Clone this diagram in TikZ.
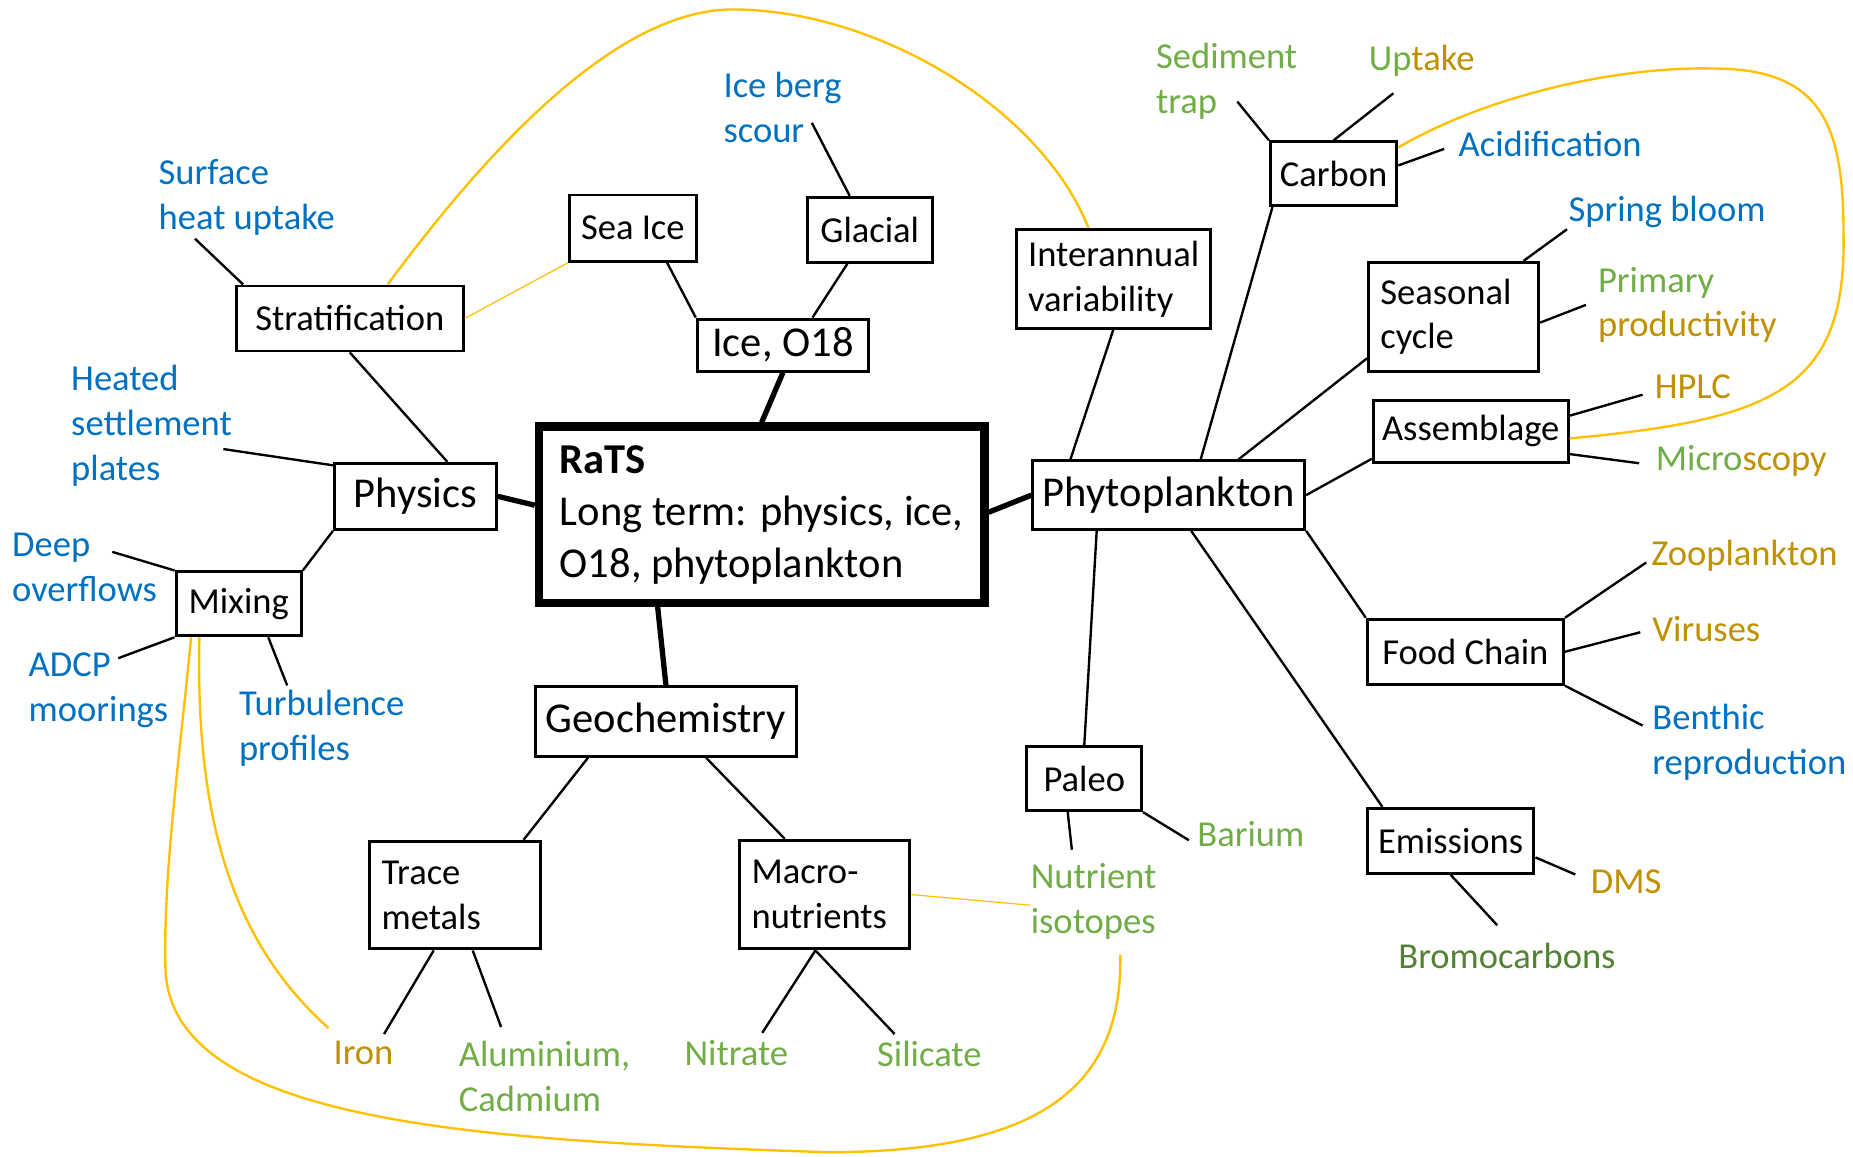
\documentclass[tikz,border=0pt]{standalone}
\usepackage{fontspec}
\setmainfont{Carlito}

\definecolor{rblue}{HTML}{0070C0}
\definecolor{rgreen}{HTML}{70AD47}
\definecolor{rgold}{HTML}{BF9000}
\definecolor{rdkgreen}{HTML}{548235}
\definecolor{ryellow}{HTML}{FFC000}

\newcommand\PX{0.25mm}
\newcommand\txtsize{\fontsize{22}{27}\selectfont}
\newcommand\bigtxtsize{\fontsize{25.6}{31.3}\selectfont}

\tikzset{
  box/.style={draw, line width=2.5*\PX, inner sep=0pt, font=\txtsize},
  bigbox/.style={box, font=\bigtxtsize},
  twobox/.style={box, align=left, inner xsep=10*\PX},
  lbl/.style={anchor=west, inner sep=0pt, align=left, font=\txtsize},
  link/.style={line width=2*\PX},
  mainlink/.style={line width=4.5*\PX},
  cross/.style={draw=ryellow, line width=2*\PX},
  crossthin/.style={draw=ryellow, line width=1*\PX},
}

\begin{document}
\begin{tikzpicture}[x=\PX, y=-\PX]

\useasboundingbox (0,0) rectangle (1568,979); %% page size

%% centre
\node[box, line width=7*\PX, align=left, font=\bigtxtsize,
  minimum width=377*\PX, minimum height=149*\PX] (rats) at (644.5,435.5)
  {\textbf{RaTS}\\Long term: physics, ice,\\O18, phytoplankton};

%% physics side
\node[bigbox, minimum width=137*\PX, minimum height=56*\PX] (phys) at (351.5,420) {Physics};
\node[box, minimum width=192*\PX, minimum height=55*\PX] (strat) at (296,269.5) {Stratification};
\node[box, minimum width=106*\PX, minimum height=54*\PX] (mix) at (202,511) {Mixing};

%% ice
\node[box, minimum width=107*\PX, minimum height=56*\PX] (seaice) at (535.5,193) {Sea Ice};
\node[box, minimum width=106*\PX, minimum height=55*\PX] (glacial) at (736,194.5) {Glacial};
\node[bigbox, minimum width=145*\PX, minimum height=44*\PX] (iceo) at (662.5,292) {Ice, O18};

%% phytoplankton
\node[bigbox, minimum width=230*\PX, minimum height=58*\PX] (phyto) at (989,419) {Phytoplankton};
\node[twobox, text width=36mm, minimum height=84*\PX] (inter) at (942,236) {Interannual\\variability};
\node[box, minimum width=107*\PX, minimum height=54*\PX] (carbon) at (1128.5,147) {Carbon};
\node[twobox, text width=31mm, minimum height=92*\PX] (seas) at (1230,268) {Seasonal\\cycle};
\node[box, minimum width=165*\PX, minimum height=52*\PX] (assem) at (1244.5,365) {Assemblage};
\node[box, minimum width=166*\PX, minimum height=55*\PX] (food) at (1240,551.5) {Food Chain};
\node[box, minimum width=97*\PX, minimum height=54*\PX] (paleo) at (917.5,659) {Paleo};
\node[box, minimum width=141*\PX, minimum height=55*\PX] (emis) at (1227.5,711.5) {Emissions};

%% geochemistry
\node[bigbox, minimum width=221*\PX, minimum height=59*\PX] (geo) at (563.5,610.5) {Geochemistry};
\node[twobox, text width=31mm, minimum height=91*\PX] (trace) at (385,757.5) {Trace\\metals};
\node[twobox, text width=31mm, minimum height=92*\PX] (macro) at (698,757) {Macro-\\nutrients};

%% labels
\node[lbl, text=rblue] (surf) at (134,167) {Surface\\heat uptake};
\node[lbl, text=rblue] (heated) at (60,360) {Heated\\settlement\\plates};
\node[lbl, text=rblue] (deep) at (10,480) {Deep\\overflows};
\node[lbl, text=rblue] (adcp) at (24,584) {ADCP\\moorings};
\node[lbl, text=rblue] (turb) at (202,616) {Turbulence\\profiles};
\node[lbl, text=rblue] (berg) at (612,91) {Ice berg\\scour};
\node[lbl, text=rgreen] (sed) at (978,69) {Sediment\\trap};
\node[lbl, text=rgreen] (upt) at (1158,51) {Up\textcolor{rgold}{take}};
\node[lbl, text=rblue] (acid) at (1234,122) {Acidification};
\node[lbl, text=rblue] (spring) at (1327,179) {Spring bloom};
\node[lbl, text=rgreen] (prim) at (1352,258) {Primary\\\textcolor{rgold}{productivity}};
\node[lbl, text=rgold] (hplc) at (1400,327) {HPLC};
\node[lbl, text=rgreen] (micro) at (1401,390) {Micro\textcolor{rgold}{scopy}};
\node[lbl, text=rgold] (zoo) at (1397,470) {Zooplankton};
\node[lbl, text=rgold] (vir) at (1398,532) {Viruses};
\node[lbl, text=rblue] (benth) at (1398,628) {Benthic\\reproduction};
\node[lbl, text=rgreen] (barium) at (1013,706) {Barium};
\node[lbl, text=rgreen] (nutr) at (872,763) {Nutrient\\isotopes};
\node[lbl, text=rgold] (dms) at (1346,746) {DMS};
\node[lbl, text=rdkgreen] (bromo) at (1183,809) {Bromocarbons};
\node[lbl, text=rgold] (iron) at (282,891) {Iron};
\node[lbl, text=rgreen] (alum) at (388,911) {Aluminium,\\Cadmium};
\node[lbl, text=rgreen] (nitr) at (579,891) {Nitrate};
\node[lbl, text=rgreen] (sil) at (742,892) {Silicate};

%% main links
\draw[mainlink] (rats.north) -- (iceo.south);
\draw[mainlink] ([yshift=8*\PX]rats.west) -- (phys.east);
\draw[mainlink] ([yshift=2*\PX]rats.east) -- (phyto.west);
\draw[mainlink] ([xshift=-7*\PX]rats.south -| geo.north) -- (geo.north);

%% physics
\draw[link] ([xshift=27*\PX]phys.north) -- (strat.south);
\draw[link] ([yshift=-3*\PX]phys.north west) -- ([shift={(129,20)}]heated.west);
\draw[link] (phys.south west) -- (mix.north east);
\draw[link] ([xshift=7*\PX]strat.north west) -- ([shift={(31,35)}]surf.west);
\draw[link] (mix.north west) -- ([shift={(85,-13)}]deep.west);
\draw[link] (mix.south west) -- ([shift={(76,-27)}]adcp.west);
\draw[link] ([xshift=25*\PX]mix.south) -- ([shift={(41,-36)}]turb.west);

%% ice
\draw[link] (iceo.north west) -- ([xshift=29*\PX]seaice.south);
\draw[link] ([xshift=25*\PX]iceo.north) -- ([xshift=-19*\PX]glacial.south);
\draw[link] ([xshift=-17*\PX]glacial.north) -- ([shift={(75,13)}]berg.west);

%% phytoplankton
\draw[link] ([xshift=33*\PX]phyto.north west) -- (inter.south);
\draw[link] ([xshift=27*\PX]phyto.north) -- ([xshift=3*\PX]carbon.south west);
\draw[link] ([xshift=59*\PX]phyto.north) -- ([yshift=12*\PX]seas.south west);
\draw[link] (phyto.east) -- ([yshift=4*\PX]assem.south west);
\draw[link] (phyto.south east) -- (food.north west);
\draw[link] ([xshift=19*\PX]phyto.south) -- ([xshift=14*\PX]emis.north west);
\draw[link] ([xshift=-61*\PX]phyto.south) -- (paleo.north);

\draw[link] (carbon.north west) -- ([shift={(69,17)}]sed.west);
\draw[link] (carbon.north) -- ([shift={(21,28)}]upt.west);
\draw[link] ([yshift=7*\PX]carbon.east) -- ([shift={(-12,4)}]acid.west);
\draw[link] ([xshift=-14*\PX]seas.north east) -- ([shift={(-1,15)}]spring.west);
\draw[link] ([yshift=-5*\PX]seas.east) -- ([shift={(-10,0)}]prim.west);
\draw[link] ([yshift=-14*\PX]assem.north east) -- ([shift={(-10,7)}]hplc.west);
\draw[link] ([yshift=8*\PX]assem.south east) -- ([shift={(-14,2)}]micro.west);
\draw[link] (food.north east) -- ([shift={(-4,6)}]zoo.west);
\draw[link] (food.east) -- ([shift={(-10,3)}]vir.west);
\draw[link] (food.south east) -- ([shift={(-8,-14)}]benth.west);
\draw[link] (paleo.south east) -- ([shift={(-7,5)}]barium.west);
\draw[link] ([xshift=-14*\PX]paleo.south) -- ([shift={(35,-44)}]nutr.west);
\draw[link] ([yshift=-14*\PX]emis.east) -- ([shift={(-13,-6)}]dms.west);
\draw[link] (emis.south) -- ([shift={(84,-26)}]bromo.west);

%% geochemistry
\draw[link] ([xshift=-66*\PX]geo.south) -- ([xshift=58*\PX]trace.north);
\draw[link] ([xshift=34*\PX]geo.south) -- ([xshift=-34*\PX]macro.north);
\draw[link] ([xshift=-18*\PX]trace.south) -- ([shift={(43,-16)}]iron.west);
\draw[link] ([xshift=15*\PX]trace.south) -- ([shift={(36,-42)}]alum.west);
\draw[link] ([xshift=-8*\PX]macro.south) -- ([shift={(66,-17)}]nitr.west);
\draw[link] ([xshift=-8*\PX]macro.south) -- ([shift={(15,-17)}]sil.west);

%% cross links
\draw[cross] ([xshift=32*\PX]strat.north) .. controls (410,130) and (520,8) .. (620,8)
  .. controls (740,8) and (880,90) .. ([xshift=-21*\PX]inter.north);
\draw[crossthin] (strat.east) -- (seaice.south west);
\draw[cross] ([yshift=-6*\PX]carbon.north east) .. controls (1260,80) and (1370,56) .. (1450,58)
  .. controls (1545,58) and (1560,110) .. (1560,200)
  .. controls (1562,330) and (1500,355) .. ([yshift=-6*\PX]assem.east);
\draw[cross] ([xshift=21*\PX]mix.south west) .. controls (165,700) and (200,800)
  .. ([shift={(-4,-21)}]iron.west);
\draw[cross] ([xshift=14*\PX]mix.south west) .. controls (152,640) and (138,740) .. (140,820)
  .. controls (145,950) and (400,965) .. (700,975)
  .. controls (880,975) and (950,920) .. ([shift={(76,45)}]nutr.west);
\draw[crossthin] (macro.east) -- ([yshift=-3*\PX]nutr.west);

\end{tikzpicture}
\end{document}
